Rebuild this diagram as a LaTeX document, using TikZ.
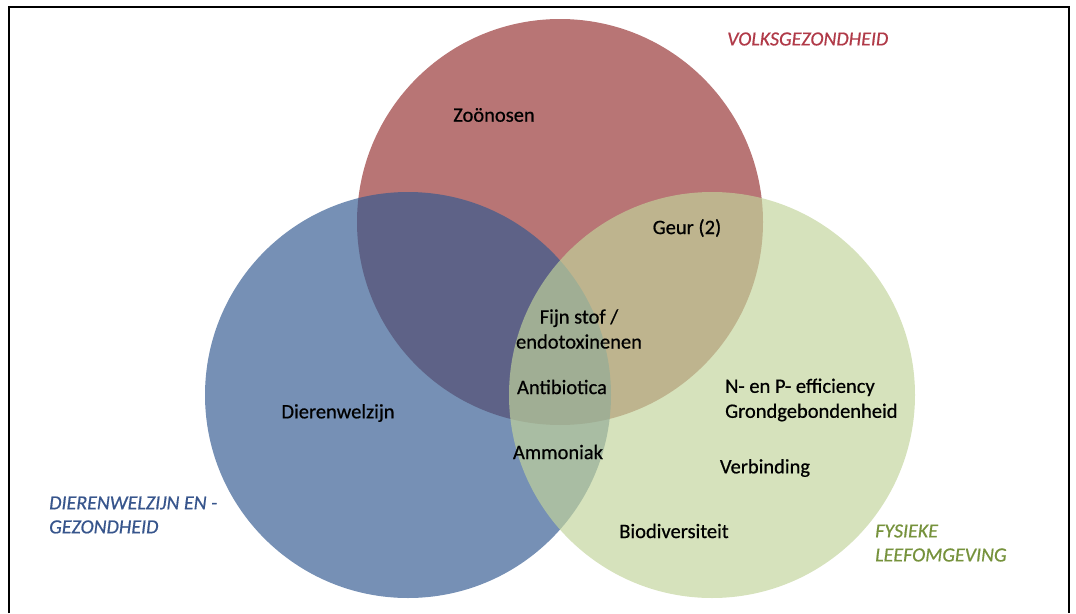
\documentclass[tikz,border=0pt]{standalone}
\usepackage{fontspec}
\setmainfont{Carlito}
\newfontfamily\labelfont{Carlito}[FakeBold=0.6]

\definecolor{volksred}{RGB}{149,49,49}
\definecolor{dierblue}{RGB}{50,90,144}
\definecolor{fysgreen}{RGB}{194,212,155}
\definecolor{volkstext}{RGB}{176,58,72}
\definecolor{diertext}{RGB}{55,85,140}
\definecolor{fystext}{RGB}{118,146,60}

\begin{document}
\begin{tikzpicture}[x=1pt, y=-1pt,
    setCircle/.style={circle, inner sep=0pt, minimum size=406pt, fill opacity=0.67},
    setRed/.style={setCircle, fill=volksred},
    setBlue/.style={setCircle, fill=dierblue},
    setGreen/.style={setCircle, fill=fysgreen},
    item/.style={font=\labelfont\fontsize{20.5}{25}\selectfont, text=black, inner sep=0pt},
    title/.style={font=\labelfont\fontsize{20}{24}\selectfont\itshape, align=left, inner sep=0pt, anchor=west}]

    \useasboundingbox (0,0) rectangle (1076,613);

    % Frame (open at the bottom)
    \draw[line width=2pt] (9,613) -- (9,7) -- (1069,7) -- (1069,613);

    % The three circles
    \node[setRed] (volks) at (560,222) {};
    \node[setBlue] (dieren) at (408,395) {};
    \node[setGreen] (fysiek) at (712,395) {};

    % Circle titles
    \node[title, text=volkstext] (volksT) at (727,39) {VOLKSGEZONDHEID};
    \node[title, text=diertext] (dierenT) at (49,515) {DIERENWELZIJN EN -\\GEZONDHEID};
    \node[title, text=fystext] (fysiekT) at (875,543) {FYSIEKE\\LEEFOMGEVING};

    % Themes inside the circles
    \node[item] (zoo) at (494,115) {Zoönosen};
    \node[item] (geur) at (687,228) {Geur (2)};
    \node[item, align=center] (fijn) at (579,329) {Fijn stof /\\endotoxinenen};
    \node[item] (anti) at (562,387) {Antibiotica};
    \node[item] (welzijn) at (338,413) {Dierenwelzijn};
    \node[item] (ammo) at (558,452) {Ammoniak};
    \node[item, align=left, anchor=west] (effic) at (725,400) {N- en P- efficiency\\Grondgebondenheid};
    \node[item] (verb) at (765,468) {Verbinding};
    \node[item] (bio) at (674,531) {Biodiversiteit};

\end{tikzpicture}
\end{document}
